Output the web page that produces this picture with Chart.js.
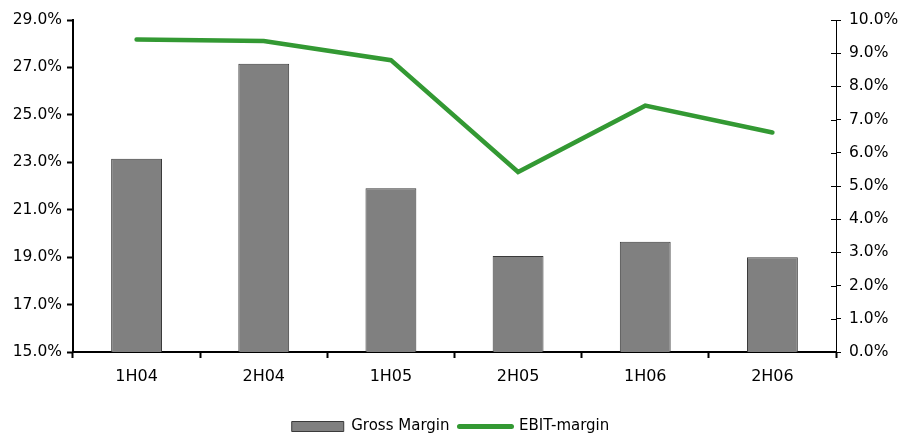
<!DOCTYPE html>
<html>
<head>
<meta charset="utf-8">
<script src="https://cdn.jsdelivr.net/npm/chart.js@4/dist/chart.umd.min.js"></script>
<style>
  html, body { margin: 0; padding: 0; background: #fff; }
</style>
</head>
<body>
<canvas id="chart" width="901" height="435"></canvas>
<script>
// Half-year periods
const periods = ['1H04', '2H04', '1H05', '2H05', '1H06', '2H06'];
// Gross margin, % (left axis)
const grossMargin = [23.15, 27.15, 21.9, 19.05, 19.65, 19.0];
// EBIT margin, % (right axis)
const ebitMargin = [9.41, 9.37, 8.79, 5.42, 7.42, 6.61];

const FONT = '"DejaVu Sans"';
const BAR_FILL = '#808080';
const BAR_EDGE = '#3a3a3a';
const LINE_GREEN = '#339933';

const pct = v => Number(v).toFixed(1) + '%';

// Right axis ticks cross the axis line: draw the inner halves.
const crossTicks = {
  id: 'crossTicks',
  afterDatasetsDraw(chart) {
    const s = chart.scales.y1;
    const ctx = chart.ctx;
    ctx.save();
    ctx.strokeStyle = '#000';
    ctx.lineWidth = 1;
    s.ticks.forEach(t => {
      const y = Math.round(s.getPixelForValue(t.value)) + 0.5;
      ctx.beginPath();
      ctx.moveTo(s.left - 5, y);
      ctx.lineTo(s.left, y);
      ctx.stroke();
    });
    ctx.restore();
  }
};

new Chart(document.getElementById('chart'), {
  data: {
    labels: periods,
    datasets: [
      {
        type: 'bar',
        label: 'Gross Margin',
        data: grossMargin,
        yAxisID: 'y',
        backgroundColor: BAR_FILL,
        borderColor: BAR_EDGE,
        borderWidth: 1,
        borderSkipped: false,
        barPercentage: 0.4,
        categoryPercentage: 1.0,
        order: 2
      },
      {
        type: 'line',
        label: 'EBIT-margin',
        data: ebitMargin,
        yAxisID: 'y1',
        borderColor: LINE_GREEN,
        backgroundColor: LINE_GREEN,
        borderWidth: 4.5,
        borderCapStyle: 'round',
        tension: 0,
        pointRadius: 0,
        pointHoverRadius: 0,
        fill: false,
        order: 1
      }
    ]
  },
  options: {
    responsive: false,
    animation: false,
    layout: { padding: { top: 20, left: 0, right: 0, bottom: -9 } },
    plugins: {
      tooltip: { enabled: false },
      legend: {
        position: 'bottom',
        labels: {
          usePointStyle: true,
          pointStyleWidth: 52,
          boxHeight: 10,
          padding: 10,
          color: '#000',
          font: { family: FONT, size: 15 },
          generateLabels() {
            return [
              { text: 'Gross Margin', pointStyle: 'rect', fillStyle: BAR_FILL,
                strokeStyle: BAR_EDGE, lineWidth: 1, datasetIndex: 0, fontColor: '#000' },
              { text: 'EBIT-margin', pointStyle: 'line', fillStyle: LINE_GREEN,
                strokeStyle: LINE_GREEN, lineWidth: 5, lineCap: 'round', datasetIndex: 1, fontColor: '#000' }
            ];
          }
        }
      }
    },
    scales: {
      x: {
        offset: true,
        afterFit(s) { s.height = 57; },
        grid: {
          offset: true,
          drawOnChartArea: false,
          drawTicks: true,
          tickLength: 6,
          tickWidth: 2,
          tickColor: '#000',
          color: '#000'
        },
        border: { display: true, color: '#000', width: 2 },
        ticks: {
          color: '#000',
          padding: 9,
          maxRotation: 0,
          font: { family: FONT, size: 16 }
        }
      },
      y: {
        position: 'left',
        min: 15,
        max: 29,
        afterFit(s) { s.width = 73; },
        grid: {
          drawOnChartArea: false,
          drawTicks: true,
          tickLength: 6,
          tickWidth: 2,
          tickColor: '#000',
          color: '#000'
        },
        border: { display: true, color: '#000', width: 2 },
        ticks: {
          stepSize: 2,
          color: '#000',
          padding: 5,
          font: { family: FONT, size: 15.5 },
          callback: v => pct(v)
        }
      },
      y1: {
        position: 'right',
        min: 0,
        max: 10,
        afterFit(s) { s.width = 65; },
        grid: {
          drawOnChartArea: false,
          drawTicks: true,
          tickLength: 5,
          tickWidth: 1,
          tickColor: '#000',
          color: '#000'
        },
        border: { display: true, color: '#000', width: 1 },
        ticks: {
          stepSize: 1,
          color: '#000',
          padding: 8,
          font: { family: FONT, size: 15.5 },
          callback: v => pct(v)
        }
      }
    }
  },
  plugins: [crossTicks]
});
</script>
</body>
</html>
